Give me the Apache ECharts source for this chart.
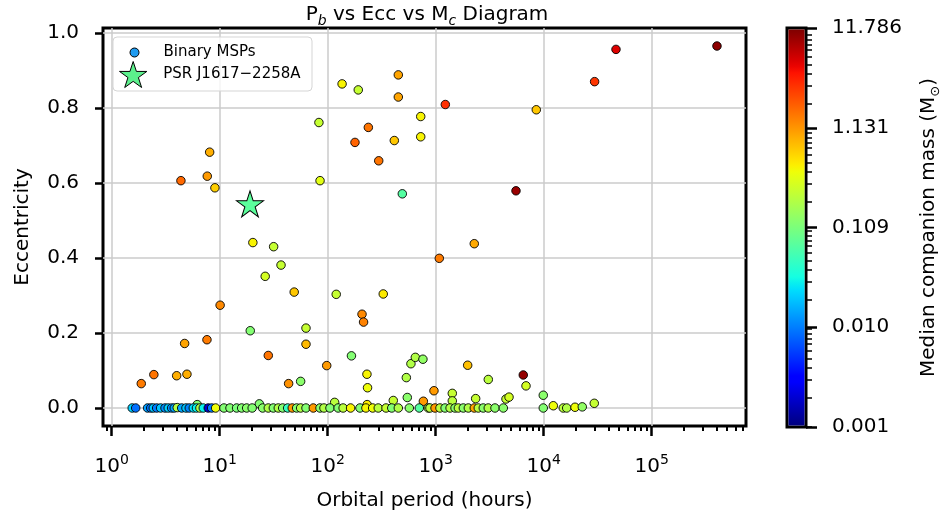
<!DOCTYPE html>
<html>
<head>
<meta charset="utf-8">
<script src="https://cdn.jsdelivr.net/npm/echarts@6/dist/echarts.min.js"></script>
<style>
html, body { margin: 0; padding: 0; background: #fff; }
#chart { width: 946px; height: 516px; }
</style>
</head>
<body>
<div id="chart"></div>
<script>
// Binary millisecond pulsars: orbital period (hours), eccentricity and median companion mass (Msun)
const periodHours = [
  136, 192, 451, 451, 727, 727, 238, 179, 414, 297, 491, 83, 85, 8.08, 7.68, 9.04, 4.38, 20.3, 31.6,
  46700, 402000, 29600, 1228, 8540, 5540, 2277, 37, 26.4, 49, 120, 327, 10.1, 208, 215, 19.2, 63, 63,
  4.74, 7.63, 28.2, 166, 98, 1.88, 2.46, 4.0, 4.98, 43.5, 56.2, 231, 234, 535, 590, 648, 762, 405, 546,
  769, 116, 23.3, 6.2, 232, 1978, 3070, 6470, 6860, 9910, 964, 1425, 1425, 2345, 4477, 4776, 1080, 29400, 12270,
  1.55, 1.67, 2.15, 2.30, 2.43, 2.61, 2.84, 3.12, 3.34, 3.59, 3.8, 4.05, 4.45, 4.88, 5.23, 5.70, 6.1, 6.57, 7.05, 7.84, 8.43, 9.18,
  10.96, 12.46, 14.35, 15.98, 17.78, 20.0, 25.0, 28.2, 31.4, 34.9, 38.3, 42.6, 47.0, 51.6, 56.2, 63, 73.6, 84.9, 92.4,
  105, 125, 139, 163, 199, 226, 261, 294, 347, 392, 451, 570, 705, 854, 885, 986, 1096, 1222, 1359, 1511, 1622, 1803,
  2006, 2277, 2480, 2758, 3068, 3540, 4227, 9910, 15180, 16330, 19500, 22760
];
const eccentricity = [
  0.864, 0.848, 0.888, 0.829, 0.777, 0.723, 0.748, 0.708, 0.713, 0.659, 0.571, 0.761, 0.606, 0.682, 0.618, 0.587, 0.606, 0.441, 0.430,
  0.956, 0.965, 0.870, 0.809, 0.795, 0.579, 0.438, 0.381, 0.351, 0.309, 0.303, 0.304, 0.274, 0.250, 0.229, 0.206, 0.213, 0.170,
  0.172, 0.182, 0.140, 0.139, 0.113, 0.065, 0.089, 0.086, 0.090, 0.065, 0.071, 0.090, 0.054, 0.081, 0.118, 0.135, 0.130, 0.020, 0.028,
  0.018, 0.015, 0.011, 0.009, 0.009, 0.114, 0.076, 0.088, 0.059, 0.034, 0.046, 0.039, 0.019, 0.025, 0.024, 0.029, 0.399, 0.0125, 0.006,
  0, 0, 0, 0, 0, 0, 0, 0, 0, 0, 0, 0.001, 0, 0, 0, 0, 0, 0, 0, 0, 0, 0,
  0, 0, 0, 0, 0, 0, 0, 0, 0, 0, 0, 0, 0, 0, 0, 0, 0, 0, 0,
  0, 0, 0, 0, 0, 0, 0, 0, 0, 0, 0, 0, 0, 0, 0, 0, 0, 0, 0, 0, 0, 0,
  0, 0, 0, 0, 0, 0, 0, 0, 0, 0, 0.002, 0.003
];
const companionMass = [
  0.45, 0.25, 1.0, 1.0, 0.45, 0.45, 1.6, 1.9, 0.7, 1.6, 0.07, 0.25, 0.35, 0.9, 1.1, 0.65, 1.8, 0.45, 0.25,
  5.5, 10.5, 3.0, 3.2, 0.7, 9.5, 0.95, 0.25, 0.3, 0.7, 0.25, 0.5, 1.3, 1.3, 1.4, 0.12, 0.25, 0.8,
  1.0, 1.5, 1.6, 0.12, 1.1, 1.5, 1.6, 0.9, 0.9, 1.2, 0.13, 0.45, 0.4, 0.2, 0.2, 0.2, 0.14, 0.25, 0.13,
  1.1, 0.22, 0.12, 0.12, 0.5, 0.75, 0.22, 10, 0.3, 0.13, 1.1, 0.25, 0.22, 0.25, 0.25, 0.3, 1.5, 0.25, 0.4,
  0.022, 0.009, 0.014, 0.009, 0.02, 0.01, 0.02, 0.012, 0.022, 0.012, 0.015, 0.2, 0.015, 0.02, 0.011, 0.025, 0.03, 0.2, 0.03, 0.002, 0.01, 0.4,
  0.12, 0.12, 0.11, 0.12, 0.13, 0.12, 0.13, 0.2, 0.12, 0.2, 0.12, 0.05, 1.1, 0.12, 0.2, 0.12, 1.1, 0.13, 0.2,
  0.12, 0.12, 0.22, 0.45, 0.12, 0.45, 0.4, 0.22, 0.25, 0.12, 0.2, 0.13, 0.07, 0.2, 0.22, 1.1, 0.22, 0.12, 0.2, 0.13, 0.22, 0.13,
  0.2, 1.0, 0.22, 0.13, 0.2, 0.13, 0.13, 0.12, 0.22, 0.2, 0.4, 0.14
];

// The highlighted pulsar
const targetName = 'PSR J1617\u22122258A';
const targetPeriod = [19.1];
const targetEcc = [0.541];
const targetMass = [0.075];

// Axis ticks
const xTickValues = [1, 10, 100, 1000, 10000, 100000];
const yTickValues = [0, 0.2, 0.4, 0.6, 0.8, 1.0];
const massTickValues = [0.001, 0.01042, 0.1086, 1.131, 11.786];

const xMin = Math.pow(10, -0.08), xMax = Math.pow(10, 5.873);
const yMin = -0.048, yMax = 1.013;
const massMin = 0.001, massMax = 11.786;

// matplotlib "jet" colormap
const JET = {
  r: [[0, 0], [0.35, 0], [0.66, 1], [0.89, 1], [1, 0.5]],
  g: [[0, 0], [0.125, 0], [0.375, 1], [0.64, 1], [0.91, 0], [1, 0]],
  b: [[0, 0.5], [0.11, 1], [0.34, 1], [0.65, 0], [1, 0]]
};
function seg(s, t) {
  for (let i = 1; i < s.length; i++) {
    if (t <= s[i][0]) {
      const [t0, v0] = s[i - 1], [t1, v1] = s[i];
      return v0 + (v1 - v0) * (t - t0) / (t1 - t0);
    }
  }
  return s[s.length - 1][1];
}
function jet(t) {
  return 'rgb(' + [JET.r, JET.g, JET.b].map(s => Math.round(255 * seg(s, t))).join(',') + ')';
}
const jetStops = Array.from({ length: 65 }, (_, i) => jet(i / 64));

function starPath() {
  let d = '';
  for (let k = 0; k < 10; k++) {
    const r = k % 2 ? 0.382 : 1;
    const a = -Math.PI / 2 + k * Math.PI / 5;
    d += (k ? 'L' : 'M') + (r * Math.cos(a)).toFixed(4) + ',' + (r * Math.sin(a)).toFixed(4) + ' ';
  }
  return 'path://' + d + 'Z';
}
const STAR = starPath();

function minorLogTicks(lo, hi, mults) {
  const out = [];
  for (let k = -4; k <= 6; k++) {
    for (const m of mults) {
      const v = m * Math.pow(10, k);
      if (v >= lo && v <= hi) out.push(v);
    }
  }
  return out;
}

const FONT = 'DejaVu Sans';
const mspData = periodHours.map((p, i) => [p, eccentricity[i], Math.log10(companionMass[i])]);
const targetData = targetPeriod.map((p, i) => [p, targetEcc[i], Math.log10(targetMass[i])]);

const chart = echarts.init(document.getElementById('chart'), null, { renderer: 'canvas' });

chart.setOption({
  animation: false,
  backgroundColor: '#fff',
  textStyle: { fontFamily: FONT, color: '#000' },
  title: {
    text: 'P{sub|b} vs Ecc vs M{sub|c} Diagram',
    left: 422,
    top: -3,
    textAlign: 'center',
    textStyle: {
      fontFamily: FONT, fontSize: 20, fontWeight: 'normal', color: '#000', lineHeight: 26,
      rich: { sub: { fontFamily: FONT, fontSize: 14, fontStyle: 'italic', verticalAlign: 'bottom', lineHeight: 16, color: '#000' } }
    }
  },
  grid: [
    { left: 103, top: 28, width: 643, height: 399, show: true, borderColor: '#000', borderWidth: 3, backgroundColor: 'transparent' },
    { left: 787, top: 28, width: 19, height: 399, show: true, borderColor: '#000', borderWidth: 3, backgroundColor: 'transparent' }
  ],
  xAxis: [
    {
      type: 'log', gridIndex: 0, min: xMin, max: xMax, position: 'bottom',
      name: 'Orbital period (hours)', nameLocation: 'middle', nameGap: 65,
      nameTextStyle: { fontFamily: FONT, fontSize: 20, color: '#000' },
      axisLine: { show: false, onZero: false },
      axisTick: { show: true, customValues: xTickValues, length: 10, lineStyle: { color: '#000', width: 2.5 } },
      axisLabel: {
        customValues: xTickValues, margin: 27, color: '#000', fontFamily: FONT, fontSize: 20, lineHeight: 28,
        formatter: v => '10{sup|' + Math.round(Math.log10(v)) + '}',
        rich: { sup: { fontFamily: FONT, fontSize: 14, verticalAlign: 'top', lineHeight: 14, color: '#000' } }
      },
      splitLine: { show: true, lineStyle: { color: '#cbcbcb', width: 1.5 } }
    },
    {
      type: 'log', gridIndex: 0, min: xMin, max: xMax, position: 'bottom',
      axisLine: { show: false, onZero: false },
      axisTick: { show: true, customValues: minorLogTicks(xMin, xMax, [2, 3, 4, 5, 6, 7, 8, 9]), length: 5, lineStyle: { color: '#000', width: 2 } },
      axisLabel: { show: false },
      splitLine: { show: false }
    },
    {
      type: 'value', gridIndex: 1, min: 0, max: 1, show: false
    }
  ],
  yAxis: [
    {
      type: 'value', gridIndex: 0, min: yMin, max: yMax, position: 'left',
      name: 'Eccentricity', nameLocation: 'middle', nameGap: 70, nameRotate: 90,
      nameTextStyle: { fontFamily: FONT, fontSize: 20, color: '#000' },
      axisLine: { show: false, onZero: false },
      axisTick: { show: true, customValues: yTickValues, length: 8, lineStyle: { color: '#000', width: 2.5 } },
      axisLabel: { customValues: yTickValues, margin: 24, color: '#000', fontFamily: FONT, fontSize: 20, formatter: v => v.toFixed(1) },
      splitLine: { show: true, lineStyle: { color: '#cbcbcb', width: 1.5 } }
    },
    {
      type: 'log', gridIndex: 1, min: massMin, max: massMax, position: 'right',
      name: 'Median companion mass (M{sub|\u2299})', nameLocation: 'middle', nameGap: 110, nameRotate: 90,
      nameTextStyle: {
        fontFamily: FONT, fontSize: 20, color: '#000', lineHeight: 26,
        rich: { sub: { fontFamily: FONT, fontSize: 13, verticalAlign: 'bottom', lineHeight: 16, color: '#000' } }
      },
      axisLine: { show: false, onZero: false },
      axisTick: { show: true, customValues: massTickValues, length: 11, lineStyle: { color: '#000', width: 2.5 } },
      axisLabel: { customValues: massTickValues, margin: 26, color: '#000', fontFamily: FONT, fontSize: 20, formatter: v => v.toFixed(3) },
      splitLine: { show: false }
    },
    {
      type: 'log', gridIndex: 1, min: massMin, max: massMax, position: 'right',
      axisLine: { show: false, onZero: false },
      axisTick: { show: true, customValues: minorLogTicks(massMin, massMax, [1, 2, 3, 4, 5, 6, 7, 8, 9]), length: 6, lineStyle: { color: '#000', width: 1.5 } },
      axisLabel: { show: false },
      splitLine: { show: false }
    }
  ],
  visualMap: {
    type: 'continuous', show: false, dimension: 2, seriesIndex: [0, 1],
    min: Math.log10(massMin), max: Math.log10(massMax),
    inRange: { color: jetStops }
  },
  legend: [
    {
      left: 129.5, top: 45, padding: 0, itemWidth: 30, itemHeight: 9, selectedMode: false,
      textStyle: { fontFamily: FONT, fontSize: 15, color: '#000', padding: [0, 0, 0, 9] },
      data: [{ name: 'Binary MSPs', icon: 'circle', itemStyle: { color: '#1e9bf0', borderColor: '#000', borderWidth: 1 } }]
    },
    {
      left: 119, top: 61, padding: 0, itemWidth: 30, itemHeight: 26, selectedMode: false,
      textStyle: { fontFamily: FONT, fontSize: 15, color: '#000', padding: [0, 0, 0, 10] },
      data: [{ name: targetName, icon: STAR, itemStyle: { color: '#5cf08c', borderColor: '#000', borderWidth: 1 } }]
    }
  ],
  graphic: [
    {
      type: 'rect', x: 113, y: 37, z: 3,
      shape: { x: 0, y: 0, width: 199, height: 54, r: 4 },
      style: { fill: 'rgba(255,255,255,0.8)', stroke: '#d5d5d5', lineWidth: 1 }
    }
  ],
  series: [
    {
      name: 'Binary MSPs', type: 'scatter', xAxisIndex: 0, yAxisIndex: 0,
      symbol: 'circle', symbolSize: 8.5,
      itemStyle: { borderColor: '#000', borderWidth: 0.9, opacity: 1 },
      emphasis: { disabled: true },
      data: mspData
    },
    {
      name: targetName, type: 'scatter', xAxisIndex: 0, yAxisIndex: 0,
      symbol: STAR, symbolSize: [27, 26], symbolOffset: [0, -1.2],
      itemStyle: { borderColor: '#000', borderWidth: 1, opacity: 1 },
      emphasis: { disabled: true },
      z: 4,
      data: targetData
    },
    {
      name: 'colorbar', type: 'custom', xAxisIndex: 2, yAxisIndex: 1,
      silent: true,
      data: [[0, massMin, 1, massMax]],
      encode: { x: [0, 2], y: [1, 3] },
      renderItem: function (params, api) {
        const p0 = api.coord([api.value(0), api.value(3)]);
        const p1 = api.coord([api.value(2), api.value(1)]);
        const stops = jetStops.map((c, i) => ({ offset: 1 - i / (jetStops.length - 1), color: c })).reverse();
        return {
          type: 'rect',
          shape: { x: p0[0] + 1.5, y: p0[1] + 1.5, width: p1[0] - p0[0] - 3, height: p1[1] - p0[1] - 3 },
          style: { fill: new echarts.graphic.LinearGradient(0, 0, 0, 1, stops) }
        };
      }
    }
  ]
});
</script>
</body>
</html>
